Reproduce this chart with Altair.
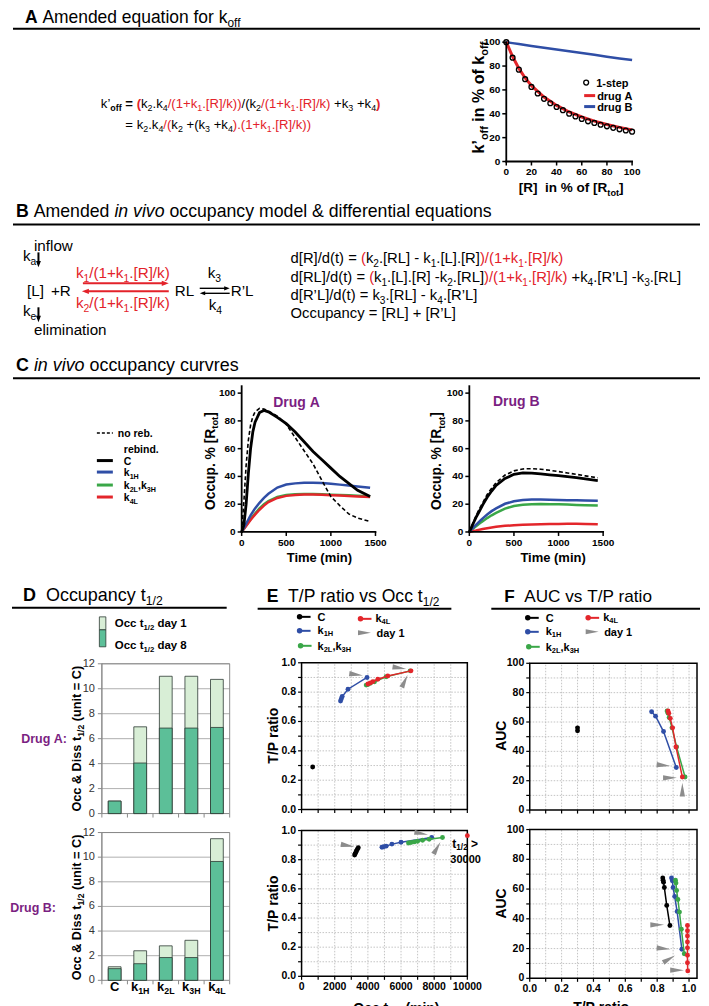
import math
import altair as alt
import pandas as pd

FONT = "Liberation Sans"
W, H = 693, 990
M = 8

BLACK = "#000000"
RED = "#e3222a"
PURPLE = "#7b1f82"
BLUE = "#2f4ea6"
GREEN = "#3aa748"
LRED = "#e3262b"
GRAY = "#8c8c8c"
GRIDC = "#b5b5b5"
DARKG = "#5cbf98"
LIGHTG = "#d8eed6"
EDGE = "#2d3a33"
XGRAY = "#8a8a8a"

# ------------------------------------------------------------------ data
A_R = [0, 5, 10, 15, 20, 25, 30, 35, 40, 45, 50, 55, 60, 65, 70, 75, 80, 85, 90, 95, 100]
A_ONESTEP = [100, 87, 77, 69, 62.5, 57, 52.5, 48.8, 45.7, 43, 40, 37.8, 35.7, 33.7, 32.3,
             30.8, 29.5, 28.2, 27, 26, 25]
A_LINE_R = [0, 5, 10, 15, 20, 30, 40, 50, 60, 70, 80, 90, 100]
A_DRUG_A = [100, 88, 78, 70, 63.5, 54, 47, 41.5, 37.3, 33.8, 31, 28.6, 26.5]
A_DRUG_B = [100, 99.2, 98.4, 97.6, 96.8, 95.3, 93.8, 92.4, 91, 89.4, 87.8, 86.3, 85]
A_TICKS = [0, 20, 40, 60, 80, 100]
A_LABELS = ["0", "20", "40", "60", "80", "100"]

C_TIME = [0, 25, 50, 75, 100, 125, 150, 200, 250, 300, 400, 500, 600, 700, 800, 900, 1000,
          1100, 1200, 1300, 1440]
CA_NOREB = [0, 22, 48, 66, 77, 83, 86.5, 89, 88.5, 87, 83.5, 77.5, 68, 58.5, 49, 37, 25.5,
            19, 13, 10, 7.5]
CA_C = [0, 5, 20, 42, 60, 72, 79, 86, 87.5, 86.5, 82.5, 78, 72, 65, 58, 52, 46, 40, 35, 30, 25.5]
CA_K1H = [0, 3, 6, 9, 12, 14.5, 17, 21, 24.5, 27.5, 32, 34.2, 35, 35.4, 35.5, 35.2, 34.7, 34.1,
          33.4, 32.8, 31.8]
CA_K2L = [0, 2.3, 4.7, 7, 9.2, 11.3, 13.3, 17, 20, 22.3, 25.2, 26.6, 27.2, 27.4, 27.3, 27.1,
          26.9, 26.7, 26.4, 26.1, 25.8]
CA_K4L = [0, 2.1, 4.3, 6.5, 8.6, 10.6, 12.5, 16, 19, 21.5, 24.5, 26, 26.7, 27, 27, 26.8, 26.5,
          26.2, 25.9, 25.6, 25.2]
CB_NOREB = [0, 4, 8, 11.5, 15, 18, 21, 27, 31.5, 35.5, 41, 44, 45.4, 45.6, 45.2, 44.4, 43.5,
            42.5, 41.5, 40.4, 39]
CB_C = [0, 3.5, 7, 10.5, 13.5, 16.5, 19.5, 25, 29.5, 33.5, 38.5, 41.5, 42.5, 42.4, 41.8, 41.2,
        40.6, 39.9, 39.1, 38.2, 37]
CB_K1H = [0, 1.8, 3.5, 5.2, 6.8, 8.3, 9.8, 12.6, 15, 17, 20.3, 22.1, 23, 23.3, 23.3, 23.2, 23,
          22.9, 22.8, 22.6, 22.5]
CB_K2L = [0, 1.4, 2.8, 4.1, 5.4, 6.6, 7.8, 10, 12, 13.8, 16.8, 18.7, 19.6, 20, 20.1, 20, 19.9,
          19.7, 19.5, 19.3, 19]
CB_K4L = [0, 0.4, 0.8, 1.1, 1.5, 1.8, 2.1, 2.7, 3.2, 3.7, 4.4, 4.9, 5.2, 5.4, 5.6, 5.7, 5.8,
          5.9, 5.9, 5.8, 5.5]
C_XTICKS = [0, 500, 1000, 1500]
C_XLABELS = ["0", "500", "1000", "1500"]
C_YTICKS = [0, 20, 40, 60, 80, 100]
C_YLABELS = ["0", "20", "40", "60", "80", "100"]

D_CATS = ["C", "k1H", "k2L", "k3H", "k4L"]
DA_DAY1 = [1.0, 6.95, 11.0, 11.0, 10.75]
DA_DAY8 = [1.0, 4.05, 6.85, 6.85, 6.9]
DB_DAY1 = [1.1, 2.4, 2.8, 3.25, 11.5]
DB_DAY8 = [0.95, 1.35, 1.85, 1.85, 9.65]
D_YTICKS = [0, 2, 4, 6, 8, 10, 12]
D_YLABELS = ["0", "2", "4", "6", "8", "10", "12"]

EA_C_X, EA_C_Y = [670], [0.29]
EA_K1H_X = [2350, 2400, 2450, 2800, 3950]
EA_K1H_Y = [0.74, 0.755, 0.77, 0.82, 0.90]
EA_K2L_X = [3900, 4000, 4150, 4400, 5100, 6550]
EA_K2L_Y = [0.848, 0.852, 0.86, 0.87, 0.905, 0.945]
EA_K4L_X = [4000, 4150, 4300, 4600, 5200, 6600]
EA_K4L_Y = [0.855, 0.863, 0.872, 0.888, 0.91, 0.945]
EA_TRI_X = [3290, 5900, 6220]
EA_TRI_Y = [0.92, 0.965, 0.875]
EA_TRI_A = [8, 8, 295]

EB_C_X = [3200, 3230, 3270, 3310, 3360, 3420]
EB_C_Y = [0.832, 0.84, 0.85, 0.86, 0.87, 0.882]
EB_K1H_X = [4850, 4950, 5100, 5450, 6000, 7850]
EB_K1H_Y = [0.885, 0.889, 0.893, 0.907, 0.92, 0.953]
EB_K2L_X = [6450, 6600, 6800, 7000, 7300, 7700, 8500]
EB_K2L_Y = [0.915, 0.918, 0.922, 0.927, 0.933, 0.94, 0.952]
EB_K4L_X, EB_K4L_Y = [10000], [0.965]
EB_TRI_X = [2780, 7220, 8170]
EB_TRI_Y = [0.897, 0.98, 0.88]
EB_TRI_A = [10, 10, 300]

E_XVALS = [0, 1000, 2000, 3000, 4000, 5000, 6000, 7000, 8000, 9000, 10000]
E_XLABELS = ["0", "", "2000", "", "4000", "", "6000", "", "8000", "", "10000"]
E_YVALS = [0, 0.1, 0.2, 0.3, 0.4, 0.5, 0.6, 0.7, 0.8, 0.9, 1.0]
E_YLABELS = ["0.0", "", "0.2", "", "0.4", "", "0.6", "", "0.8", "", "1.0"]

FA_C_X, FA_C_Y = [0.30, 0.30], [56, 54]
FA_K1H_X = [0.765, 0.79, 0.84, 0.92]
FA_K1H_Y = [67, 64, 53.5, 29]
FA_K2L_X = [0.862, 0.868, 0.875, 0.893, 0.922, 0.975]
FA_K2L_Y = [67.5, 66, 63, 56, 43, 22.5]
FA_K4L_X = [0.868, 0.873, 0.882, 0.897, 0.918, 0.958]
FA_K4L_Y = [67.5, 66, 62.5, 56, 43, 22.5]
FA_TRI_X = [0.84, 0.88, 0.958]
FA_TRI_Y = [30.5, 22, 14]
FA_TRI_A = [5, 0, 270]

FB_C_X = [0.835, 0.837, 0.84, 0.845, 0.86, 0.88]
FB_C_Y = [67.5, 66, 64.5, 61, 49, 35.5]
FB_K1H_X = [0.89, 0.895, 0.9, 0.91, 0.925, 0.955]
FB_K1H_Y = [67.5, 65.5, 61, 55, 45, 19.5]
FB_K2L_X = [0.915, 0.918, 0.922, 0.93, 0.94, 0.952, 0.97]
FB_K2L_Y = [66, 64, 59, 53, 44.5, 33, 16.5]
FB_K4L_X = [0.99, 0.99, 0.99, 0.99, 0.99, 0.99, 0.99, 0.992]
FB_K4L_Y = [35.5, 32, 28.5, 24.5, 20.5, 15.5, 10.5, 5]
FB_TRI_X = [0.80, 0.84, 0.875, 0.925]
FB_TRI_Y = [36, 20, 13, 5.5]
FB_TRI_A = [0, 5, 330, 0]

F_XVALS = [0, 0.1, 0.2, 0.3, 0.4, 0.5, 0.6, 0.7, 0.8, 0.9, 1.0]
F_XLABELS = ["0.0", "", "0.2", "", "0.4", "", "0.6", "", "0.8", "", "1.0"]
F_YVALS = [0, 10, 20, 30, 40, 50, 60, 70, 80, 90, 100]
F_YLABELS = ["0", "", "20", "", "40", "", "60", "", "80", "", "100"]

# ------------------------------------------------------------------ text layout helpers
REGW = {' ': 278, '!': 278, '%': 889, '&': 667, "'": 191, '\u2019': 222, '(': 333, ')': 333,
        '+': 584, ',': 278, '-': 333, '.': 278, '/': 278, ':': 278, '=': 584, '>': 584,
        '[': 278, ']': 278,
        'A': 667, 'B': 667, 'C': 722, 'D': 722, 'E': 667, 'F': 611, 'H': 722, 'L': 556,
        'O': 778, 'P': 667, 'R': 722, 'T': 611, 'U': 722,
        'a': 556, 'b': 556, 'c': 500, 'd': 556, 'e': 556, 'f': 278, 'g': 556, 'h': 556,
        'i': 222, 'k': 500, 'l': 222, 'm': 833, 'n': 556, 'o': 556, 'p': 556, 'q': 556,
        'r': 333, 's': 500, 't': 278, 'u': 556, 'v': 500, 'w': 722, 'x': 500, 'y': 500}
BOLDW = {' ': 278, '!': 333, '%': 889, '&': 722, "'": 238, '\u2019': 278, '(': 333, ')': 333,
         '+': 584, ',': 278, '-': 333, '.': 278, '/': 278, ':': 333, '=': 584, '>': 584,
         '[': 333, ']': 333,
         'A': 722, 'B': 722, 'C': 722, 'D': 722, 'E': 667, 'F': 611, 'H': 722, 'L': 611,
         'O': 778, 'P': 667, 'R': 722, 'T': 611, 'U': 722,
         'a': 556, 'b': 611, 'c': 556, 'd': 611, 'e': 556, 'f': 333, 'g': 611, 'h': 611,
         'i': 278, 'k': 556, 'l': 278, 'm': 889, 'n': 611, 'o': 611, 'p': 611, 'q': 611,
         'r': 389, 's': 556, 't': 333, 'u': 611, 'v': 556, 'w': 778, 'x': 556, 'y': 556}
SUB = 0.68

TXT, RULES, PTS, RECTS = [], [], [], []


def _items(segs, bold):
    out = []
    for s in segs:
        if isinstance(s, str):
            out.append((s, "b" if bold else ""))
        else:
            out.append((s[0], s[1] + ("b" if bold else "")))
    return out


def _measure(items, fs):
    res = []
    for t, fl in items:
        sz = fs * (SUB if "s" in fl else 1.0)
        tbl = BOLDW if "b" in fl else REGW
        res.append((t, fl, sz, sum(tbl.get(ch, 556) for ch in t) * sz / 1000.0))
    return res


def twidth(segs, fs, bold=False):
    return sum(r[3] for r in _measure(_items(segs, bold), fs))


def put(segs, x, y, fs, anchor="left", angle=0, color=BLACK, width=None, bold=False):
    items = _items(segs, bold)
    m = _measure(items, fs)
    total = sum(r[3] for r in m)
    if width is not None:
        fs = fs * width / total
        m = _measure(items, fs)
        total = sum(r[3] for r in m)
    pos = {"left": 0.0, "center": -total / 2.0, "right": -total}[anchor]
    bx = x + 0.35 * fs
    for t, fl, sz, w in m:
        tbl = BOLDW if "b" in fl else REGW
        stripped = t.lstrip(" ")
        lead = (len(t) - len(stripped)) * tbl[" "] * sz / 1000.0
        core = stripped.rstrip(" ")
        if core:
            col = RED if "r" in fl else (PURPLE if "p" in fl else color)
            sh = 0.24 * fs if "s" in fl else 0.0
            p = pos + lead
            if angle == 270:
                X, Y = bx + sh, y - p
            else:
                X, Y = x + p, y + sh
            TXT.append({"x": X - M, "y": Y - M, "t": core.replace(" ", "\u00a0"),
                        "s": round(sz, 2), "c": col, "w": "bold" if "b" in fl else "normal",
                        "st": "italic" if "i" in fl else "normal", "a": angle})
        pos += w
    return fs


def rule(x1, y1, x2, y2, color=BLACK, sw=2.0, dash=0):
    RULES.append({"x": x1 - M, "y": y1 - M, "x2": x2 - M, "y2": y2 - M, "c": color,
                  "sw": sw, "d": dash})


TRI = "M1,0L-1,-0.38L-1,0.38Z"
HEAD = "M1,0L-1,-0.75L-1,0.75Z"


def pt(x, y, shape, size, color, angle=0, filled=True):
    PTS.append({"x": x - M, "y": y - M, "shape": shape, "s": size, "c": color, "a": angle,
                "f": filled})


def rect(x1, y1, x2, y2, fill):
    RECTS.append({"x": x1 - M, "y": y1 - M, "x2": x2 - M, "y2": y2 - M, "c": fill})


def arrow(x1, y1, x2, y2, color, sw, hsize):
    dx, dy = x2 - x1, y2 - y1
    L = math.hypot(dx, dy)
    ang = math.degrees(math.atan2(dy, dx)) % 360
    r = math.sqrt(hsize) / 2.0
    cx, cy = x2 - dx / L * r, y2 - dy / L * r
    rule(x1, y1, cx, cy, color, sw)
    pt(cx, cy, HEAD, hsize, color, angle=ang)


# ------------------------------------------------------------------ panel A texts
put([("A", "b"), (" Amended equation for k", ""), ("off", "s")], 25, 17, 17, width=216)
rule(13, 23, 701, 23)
EQ1 = [("k\u2019", ""), ("off", "bs"), (" = ", "b"), ("(", "rb"), ("k", ""), ("2", "s"),
       (".k", ""), ("4", "s"), ("/(1+k", "r"), ("1", "rs"), (".[R]/k))", "r"), ("/(k", ""),
       ("2", "s"), ("/(1+k", "r"), ("1", "rs"), (".[R]/k)", "r"), (" +k", ""), ("3", "s"),
       (" +k", ""), ("4", "s"), (")", "rb")]
fsA = put(EQ1, 101, 102, 13, width=280)
eq2x = 101 + twidth([("k\u2019", ""), ("off", "bs"), (" ", "b")], fsA)
put([("= k", ""), ("2", "s"), (".k", ""), ("4", "s"), ("/(", "r"), ("k", ""), ("2", "s"),
     (" +(k", ""), ("3", "s"), (" +k", ""), ("4", "s"), (").(1+k", "r"), ("1", "rs"),
     (".[R]/k))", "r")], eq2x, 123, fsA)
put([("k\u2019", ""), ("off", "s"), (" in % of k", ""), ("off", "s")], 479, 92, 13,
    anchor="center", angle=270, width=112, bold=True)
put([("[R]  in % of [R", ""), ("tot", "s"), ("]", "")], 572, 187, 13, anchor="center",
    width=105, bold=True)
pt(587, 77, "circle", 24, BLACK, filled=False)
put(["1-step"], 597, 81, 11, bold=True)
rule(585, 90, 596, 90, LRED, 3)
put(["drug A"], 598, 94, 11, bold=True)
rule(585, 101, 596, 101, BLUE, 3)
put(["drug B"], 598, 105, 11, bold=True)

# ------------------------------------------------------------------ panel B texts
put([("B", "b"), (" Amended ", ""), ("in vivo", "i"),
     (" occupancy model & differential equations", "")], 16, 212, 17, width=477)
rule(13, 219, 701, 219)
fsD = put([("k", ""), ("1", "s"), ("/(1+k", ""), ("1", "s"), (".[R]/k)", "")], 76, 273, 13,
          color=RED, width=94)
put([("k", ""), ("2", "s"), ("/(1+k", ""), ("1", "s"), (".[R]/k)", "")], 76, 303, fsD,
    color=RED)
put(["inflow"], 34, 246, fsD)
put([("k", ""), ("a", "s")], 23, 256, fsD)
arrow(38.5, 247, 38.5, 262, BLACK, 2, 42)
put(["[L]"], 27, 291, fsD)
put(["+R"], 51, 291, fsD)
put([("k", ""), ("e", "s")], 23, 311, fsD)
arrow(38.5, 302, 38.5, 317, BLACK, 2, 42)
put(["elimination"], 34, 330, fsD)
arrow(83, 278, 169, 278, RED, 2, 49)
arrow(169, 286, 82, 286, RED, 2, 49)
put(["RL"], 175, 291, fsD)
put([("k", ""), ("3", "s")], 208, 273, fsD)
arrow(200, 283, 230, 283, BLACK, 1.4, 30)
arrow(230, 288, 200, 288, BLACK, 1.4, 30)
put(["R\u2019L"], 231, 291, fsD)
put([("k", ""), ("4", "s")], 209, 305, fsD)

EQB2 = [("d[RL]/d(t) = ", ""), ("(", "r"), ("k", ""), ("1", "s"), (".[L].[R] -k", ""),
        ("2", "s"), (".[RL]", ""), (")/(1+k", "r"), ("1", "rs"), (".[R]/k)", "r"), (" +k", ""),
        ("4", "s"), (".[R\u2019L] -k", ""), ("3", "s"), (".[RL]", "")]
fsE = put(EQB2, 291, 277, 13, width=391)
put([("d[R]/d(t) = ", ""), ("(", "r"), ("k", ""), ("2", "s"), (".[RL] - k", ""), ("1", "s"),
     (".[L].[R]", ""), (")/(1+k", "r"), ("1", "rs"), (".[R]/k)", "r")], 291, 258, fsE)
put([("d[R\u2019L]/d(t) = k", ""), ("3", "s"), (".[RL] - k", ""), ("4", "s"),
     (".[R\u2019L]", "")], 291, 295, fsE)
put(["Occupancy = [RL] + [R\u2019L]"], 291, 313, fsE)

# ------------------------------------------------------------------ panel C texts
put([("C", "b"), (" ", ""), ("in vivo", "i"), (" occupancy curvres", "")], 16, 366, 17,
    width=223)
rule(13, 373, 701, 373)
rule(97, 428, 113, 428, BLACK, 1.5, dash=1)
put(["no reb."], 118, 432, 10.5, bold=True)
put(["rebind."], 124, 448, 10.5, bold=True)
rule(97, 455.5, 113, 455.5, BLACK, 3)
put(["C"], 124, 459.5, 10.5, bold=True)
rule(97, 467, 113, 467, BLUE, 3)
put([("k", ""), ("1H", "s")], 124, 471, 10.5, bold=True)
rule(97, 480, 113, 480, GREEN, 3)
put([("k", ""), ("2L", "s"), (",k", ""), ("3H", "s")], 124, 484, 10.5, bold=True)
rule(97, 492, 113, 492, LRED, 3)
put([("k", ""), ("4L", "s")], 124, 496, 10.5, bold=True)
put(["Drug A"], 297, 402, 14, anchor="center", bold=True, color=PURPLE)
put(["Drug B"], 517, 401, 14, anchor="center", bold=True, color=PURPLE)
for xc in (210, 437):
    put([("Occup. % [R", ""), ("tot", "s"), ("]", "")], xc, 456, 13, anchor="center",
        angle=270, width=98, bold=True)
put(["Time (min)"], 320, 557, 13, anchor="center", bold=True)
put(["Time (min)"], 554, 557, 13, anchor="center", bold=True)

# ------------------------------------------------------------------ panel D texts
put([("D", "b"), ("  Occupancy t", ""), ("1/2", "s")], 23, 596, 17, width=140)
rule(12, 603, 227, 603)
rect(99.5, 612, 106, 625, LIGHTG)
rect(99.5, 625, 106, 642, DARKG)
put([("Occ t", ""), ("1/2", "s"), (" day 1", "")], 115, 622, 11, bold=True, width=72)
put([("Occ t", ""), ("1/2", "s"), (" day 8", "")], 115, 644, 11, bold=True, width=72)
put(["Drug A:"], 67, 738, 12.5, anchor="right", bold=True, color=PURPLE)
put(["Drug B:"], 56, 908, 12.5, anchor="right", bold=True, color=PURPLE)
for yc in (734, 903):
    put([("Occ & Diss t", ""), ("1/2", "s"), (" (unit = C)", "")], 77, yc, 12,
        anchor="center", angle=270, width=146, bold=True)
D_X0, D_X1 = 102, 230
D_STEP = (D_X1 - D_X0) / 5.0
CAT_SEGS = [[("C", "")], [("k", ""), ("1H", "s")], [("k", ""), ("2L", "s")],
            [("k", ""), ("3H", "s")], [("k", ""), ("4L", "s")]]
for i, segs in enumerate(CAT_SEGS):
    put(segs, D_X0 + D_STEP * (i + 0.5), 987, 13, anchor="center", bold=True)
for yb in (809, 976):
    for i in range(6):
        rule(D_X0 + D_STEP * i, yb, D_X0 + D_STEP * i, yb + 4, XGRAY, 1)

# ------------------------------------------------------------------ panel E/F texts
put([("E", "b"), ("  T/P ratio vs Occ t", ""), ("1/2", "s")], 267, 597, 17, width=173)
rule(258, 604, 452, 604)
put([("F", "b"), ("  AUC vs T/P ratio", "")], 505, 597, 17, width=148)
rule(492, 604, 701, 604)


def legend_block(x, y, x2, y2):
    rule(x, y, x + 11, y, BLACK, 2)
    pt(x, y, "circle", 30, BLACK)
    put(["C"], x + 18, y + 4, 11, bold=True)
    rule(x, y + 14, x + 11, y + 14, BLUE, 2)
    pt(x, y + 14, "circle", 30, BLUE)
    put([("k", ""), ("1H", "s")], x + 18, y + 17, 11, bold=True)
    rule(x + 1, y + 29, x + 12, y + 29, GREEN, 2)
    pt(x + 1, y + 29, "circle", 30, GREEN)
    put([("k", ""), ("2L", "s"), (",k", ""), ("3H", "s")], x + 18, y + 33, 11, bold=True)
    rule(x2, y2, x2 + 11, y2, LRED, 2)
    pt(x2, y2, "circle", 30, LRED)
    put([("k", ""), ("4L", "s")], x2 + 15, y2 + 3, 11, bold=True)
    pt(x2 + 4, y2 + 14, TRI, 169, GRAY)
    put(["day 1"], x2 + 16, y2 + 18, 11, bold=True)


legend_block(300, 612, 361, 614)
legend_block(528.5, 613, 589, 613)
for yc in (731, 899):
    put(["T/P ratio"], 273, yc, 14, anchor="center", angle=270, bold=True)
    put(["AUC"], 502, yc, 14, anchor="center", angle=270, bold=True)
put([("Occ t", ""), ("1/2", "s"), (" (min)", "")], 397, 1009, 14, anchor="center", bold=True)
put(["T/P ratio"], 602, 1008, 14, anchor="center", bold=True)
put([("t", ""), ("1/2", "s"), (" >", "")], 453, 843, 12, bold=True)
put(["30000"], 451, 859, 11, bold=True)


# ------------------------------------------------------------------ scales / axes helpers
def sx(dom, a, b):
    return alt.Scale(domain=dom, range=[a - M, b - M], nice=False, zero=False)


def sy(dom, bottom, top):
    return alt.Scale(domain=dom, range=[bottom - M, top - M], nice=False, zero=False)


PRISM = dict(dc=BLACK, dw=1.8, tc=BLACK, tw=1.5, ts=4, fs=10, fw="bold", lc=BLACK, pad=2)
FRAMED = dict(dc=BLACK, dw=0, tc=BLACK, tw=1.2, ts=3.5, fs=10.5, fw="bold", lc=BLACK, pad=2)
EXCEL = dict(dc=XGRAY, dw=1, tc=XGRAY, tw=1, ts=4, fs=11, fw="normal", lc="#333333", pad=3)


def y_axis(ys, xpage, dom, vals, labels, st, domain=True):
    x = xpage - M
    out = []
    if domain:
        out.append(alt.Chart(pd.DataFrame({"a": [dom[0]], "b": [dom[1]]})).mark_rule(
            color=st["dc"], strokeWidth=st["dw"], strokeCap="square").encode(
            y=alt.Y("a:Q", scale=ys, axis=None), y2="b:Q", x=alt.value(x)))
    df = pd.DataFrame({"v": vals, "lab": labels})
    out.append(alt.Chart(df).mark_rule(color=st["tc"], strokeWidth=st["tw"]).encode(
        y=alt.Y("v:Q", scale=ys, axis=None), x=alt.value(x - st["ts"]), x2=alt.value(x)))
    lab = df[df["lab"] != ""]
    out.append(alt.Chart(lab).mark_text(
        align="right", baseline="middle", font=FONT, fontSize=st["fs"], fontWeight=st["fw"],
        color=st["lc"]).encode(
        y=alt.Y("v:Q", scale=ys, axis=None), x=alt.value(x - st["ts"] - st["pad"]),
        text="lab:N"))
    return out


def x_axis(xs, ypage, dom, vals, labels, st, domain=True, show_labels=True):
    y = ypage - M
    out = []
    if domain:
        out.append(alt.Chart(pd.DataFrame({"a": [dom[0]], "b": [dom[1]]})).mark_rule(
            color=st["dc"], strokeWidth=st["dw"], strokeCap="square").encode(
            x=alt.X("a:Q", scale=xs, axis=None), x2="b:Q", y=alt.value(y)))
    df = pd.DataFrame({"v": vals, "lab": labels})
    out.append(alt.Chart(df).mark_rule(color=st["tc"], strokeWidth=st["tw"]).encode(
        x=alt.X("v:Q", scale=xs, axis=None), y=alt.value(y), y2=alt.value(y + st["ts"])))
    if show_labels:
        lab = df[df["lab"] != ""]
        out.append(alt.Chart(lab).mark_text(
            align="center", baseline="top", font=FONT, fontSize=st["fs"],
            fontWeight=st["fw"], color=st["lc"]).encode(
            x=alt.X("v:Q", scale=xs, axis=None), y=alt.value(y + st["ts"] + st["pad"]),
            text="lab:N"))
    return out


# ------------------------------------------------------------------ panel A plot
def panel_a():
    xs = sx([0, 100], 507, 633)
    ys = sy([0, 100], 156, 36.5)
    df_l = pd.DataFrame({"x": A_LINE_R, "a": A_DRUG_A, "b": A_DRUG_B})
    df_p = pd.DataFrame({"x": A_R, "y": A_ONESTEP})
    blue = alt.Chart(df_l).mark_line(color=BLUE, strokeWidth=2.5).encode(
        x=alt.X("x:Q", scale=xs, axis=None), y=alt.Y("b:Q", scale=ys, axis=None))
    red = alt.Chart(df_l).mark_line(color=LRED, strokeWidth=3).encode(
        x=alt.X("x:Q", scale=xs, axis=None), y=alt.Y("a:Q", scale=ys, axis=None))
    pts = alt.Chart(df_p).mark_point(shape="circle", filled=False, color=BLACK, size=24,
                                     strokeWidth=1.3, opacity=1).encode(
        x=alt.X("x:Q", scale=xs, axis=None), y=alt.Y("y:Q", scale=ys, axis=None))
    axes = (x_axis(xs, 156, [0, 100], A_TICKS, A_LABELS, PRISM)
            + y_axis(ys, 507, [0, 100], A_TICKS, A_LABELS, PRISM))
    return alt.layer(blue, red, pts, *axes)


# ------------------------------------------------------------------ panel C plots
def panel_c(x0, x1, series):
    xs = sx([0, 1500], x0, x1)
    ys = sy([0, 105], 527, 381)
    layers = []
    for vals, color, width, dash in series:
        df = pd.DataFrame({"x": C_TIME, "y": vals})
        mk = dict(color=color, strokeWidth=width)
        if dash:
            mk["strokeDash"] = [4, 2.5]
        layers.append(alt.Chart(df).mark_line(**mk).encode(
            x=alt.X("x:Q", scale=xs, axis=None), y=alt.Y("y:Q", scale=ys, axis=None)))
    layers += x_axis(xs, 527, [0, 1500], C_XTICKS, C_XLABELS, PRISM)
    layers += y_axis(ys, x0, [0, 105], C_YTICKS, C_YLABELS, PRISM)
    return alt.layer(*layers)


# ------------------------------------------------------------------ panel D plots
def panel_d(day1, day8, bottom, top):
    xs = alt.Scale(type="band", domain=D_CATS, range=[D_X0 - M, D_X1 - M], paddingInner=0.5,
                   paddingOuter=0.25)
    ys = sy([0, 12], bottom, top)
    df = pd.DataFrame({"cat": D_CATS, "d1": day1, "d8": day8})
    grid = alt.Chart(pd.DataFrame({"g": D_YTICKS[1:]})).mark_rule(
        color="#9a9a9a", strokeWidth=0.8).encode(
        y=alt.Y("g:Q", scale=ys, axis=None), x=alt.value(D_X0 - M), x2=alt.value(D_X1 - M))
    frame = alt.Chart(pd.DataFrame({"k": [0]})).mark_rect(
        fillOpacity=0, stroke=XGRAY, strokeWidth=1).encode(
        x=alt.value(D_X0 - M), x2=alt.value(D_X1 - M), y=alt.value(top - M),
        y2=alt.value(bottom - M))
    light = alt.Chart(df).mark_bar(color=LIGHTG, stroke=EDGE, strokeWidth=0.8).encode(
        x=alt.X("cat:N", scale=xs, sort=D_CATS, axis=None),
        y=alt.Y("d1:Q", scale=ys, axis=None))
    dark = alt.Chart(df).mark_bar(color=DARKG, stroke=EDGE, strokeWidth=0.8).encode(
        x=alt.X("cat:N", scale=xs, sort=D_CATS, axis=None),
        y=alt.Y("d8:Q", scale=ys, axis=None))
    axes = y_axis(ys, D_X0, [0, 12], D_YTICKS, D_YLABELS, EXCEL)
    return alt.layer(grid, frame, light, dark, *axes)


# ------------------------------------------------------------------ panel E/F plots
def panel_framed(series, tri, xdom, ydom, xl, xr, yb, yt, xvals, xlabels, yvals, ylabels,
                 show_x):
    xs = sx(xdom, xl, xr)
    ys = sy(ydom, yb, yt)
    gv = pd.DataFrame({"x": [v for v in xvals if xdom[0] < v < xdom[1]]})
    gv["y0"], gv["y1"] = ydom[0], ydom[1]
    gh = pd.DataFrame({"y": [v for v in yvals if ydom[0] < v < ydom[1]]})
    gh["x0"], gh["x1"] = xdom[0], xdom[1]
    grid_v = alt.Chart(gv).mark_rule(color=GRIDC, strokeWidth=0.8, strokeDash=[1.5, 1.5]).encode(
        x=alt.X("x:Q", scale=xs, axis=None), y=alt.Y("y0:Q", scale=ys, axis=None), y2="y1:Q")
    grid_h = alt.Chart(gh).mark_rule(color=GRIDC, strokeWidth=0.8, strokeDash=[1.5, 1.5]).encode(
        y=alt.Y("y:Q", scale=ys, axis=None), x=alt.X("x0:Q", scale=xs, axis=None), x2="x1:Q")
    fr = pd.DataFrame({"x0": [xdom[0]], "x1": [xdom[1]], "y0": [ydom[0]], "y1": [ydom[1]]})
    frame = alt.Chart(fr).mark_rect(fillOpacity=0, stroke=BLACK, strokeWidth=1.5).encode(
        x=alt.X("x0:Q", scale=xs, axis=None), x2="x1:Q",
        y=alt.Y("y0:Q", scale=ys, axis=None), y2="y1:Q")
    layers = [grid_v, grid_h, frame]
    layers += x_axis(xs, yb, xdom, xvals, xlabels, FRAMED, domain=False, show_labels=show_x)
    layers += y_axis(ys, xl, ydom, yvals, ylabels, FRAMED, domain=False)
    for xv, yv, color in series:
        df = pd.DataFrame({"x": xv, "y": yv})
        layers.append(alt.Chart(df).mark_line(
            color=color, strokeWidth=1.5,
            point=alt.OverlayMarkDef(filled=True, size=24, color=color, opacity=1)).encode(
            x=alt.X("x:Q", scale=xs, axis=None), y=alt.Y("y:Q", scale=ys, axis=None)))
    tdf = pd.DataFrame({"x": tri[0], "y": tri[1], "ang": tri[2]})
    layers.append(alt.Chart(tdf).mark_point(shape=TRI, filled=True, color=GRAY, size=190,
                                            opacity=1).encode(
        x=alt.X("x:Q", scale=xs, axis=None), y=alt.Y("y:Q", scale=ys, axis=None),
        angle=alt.Angle("ang:Q", scale=None)))
    return alt.layer(*layers)


pA = panel_a()
pCA = panel_c(242, 376, [(CA_K2L, GREEN, 2.5, False), (CA_K4L, LRED, 2.5, False),
                         (CA_K1H, BLUE, 2.5, False), (CA_NOREB, BLACK, 1.6, True),
                         (CA_C, BLACK, 2.8, False)])
pCB = panel_c(470, 604, [(CB_K2L, GREEN, 2.5, False), (CB_K4L, LRED, 2.5, False),
                         (CB_K1H, BLUE, 2.5, False), (CB_NOREB, BLACK, 1.6, True),
                         (CB_C, BLACK, 2.8, False)])
pDA = panel_d(DA_DAY1, DA_DAY8, 809, 659)
pDB = panel_d(DB_DAY1, DB_DAY8, 976, 828)
pEA = panel_framed([(EA_C_X, EA_C_Y, BLACK), (EA_K1H_X, EA_K1H_Y, BLUE),
                    (EA_K2L_X, EA_K2L_Y, GREEN), (EA_K4L_X, EA_K4L_Y, LRED)],
                   (EA_TRI_X, EA_TRI_Y, EA_TRI_A), [0, 10000], [0, 1], 302, 468, 805, 658,
                   E_XVALS, E_XLABELS, E_YVALS, E_YLABELS, False)
pEB = panel_framed([(EB_C_X, EB_C_Y, BLACK), (EB_K1H_X, EB_K1H_Y, BLUE),
                    (EB_K2L_X, EB_K2L_Y, GREEN), (EB_K4L_X, EB_K4L_Y, LRED)],
                   (EB_TRI_X, EB_TRI_Y, EB_TRI_A), [0, 10000], [0, 1], 302, 468, 972, 826,
                   E_XVALS, E_XLABELS, E_YVALS, E_YLABELS, True)
pFA = panel_framed([(FA_C_X, FA_C_Y, BLACK), (FA_K1H_X, FA_K1H_Y, BLUE),
                    (FA_K2L_X, FA_K2L_Y, GREEN), (FA_K4L_X, FA_K4L_Y, LRED)],
                   (FA_TRI_X, FA_TRI_Y, FA_TRI_A), [0, 1.05], [0, 100], 530.5, 698, 805.5,
                   658.5, F_XVALS, F_XLABELS, F_YVALS, F_YLABELS, False)
pFB = panel_framed([(FB_C_X, FB_C_Y, BLACK), (FB_K1H_X, FB_K1H_Y, BLUE),
                    (FB_K2L_X, FB_K2L_Y, GREEN), (FB_K4L_X, FB_K4L_Y, LRED)],
                   (FB_TRI_X, FB_TRI_Y, FB_TRI_A), [0, 1.05], [0, 100], 530.5, 698, 974, 825,
                   F_XVALS, F_XLABELS, F_YVALS, F_YLABELS, True)

# ------------------------------------------------------------------ overlay layers
PXX = alt.X("x:Q", scale=None, axis=None)
PXY = alt.Y("y:Q", scale=None, axis=None)
overlay = []
rdf = pd.DataFrame(RULES)
for d, g in rdf.groupby("d"):
    mk = dict(strokeCap="butt")
    if d:
        mk["strokeDash"] = [3, 2]
    overlay.append(alt.Chart(g).mark_rule(**mk).encode(
        x=PXX, y=PXY, x2="x2:Q", y2="y2:Q", color=alt.Color("c:N", scale=None),
        strokeWidth=alt.StrokeWidth("sw:Q", scale=None)))
overlay.append(alt.Chart(pd.DataFrame(RECTS)).mark_rect(stroke=EDGE, strokeWidth=0.8).encode(
    x=PXX, y=PXY, x2="x2:Q", y2="y2:Q", color=alt.Color("c:N", scale=None)))
pdf = pd.DataFrame(PTS)
for (shape, filled), g in pdf.groupby(["shape", "f"]):
    overlay.append(alt.Chart(g).mark_point(shape=shape, filled=bool(filled), opacity=1,
                                           strokeWidth=1.3).encode(
        x=PXX, y=PXY, size=alt.Size("s:Q", scale=None), color=alt.Color("c:N", scale=None),
        angle=alt.Angle("a:Q", scale=None)))
tdf = pd.DataFrame(TXT)
for (w, st, a), g in tdf.groupby(["w", "st", "a"]):
    overlay.append(alt.Chart(g).mark_text(align="left", baseline="alphabetic", font=FONT,
                                          fontWeight=w, fontStyle=st, angle=int(a)).encode(
        x=PXX, y=PXY, text="t:N", color=alt.Color("c:N", scale=None),
        size=alt.Size("s:Q", scale=None)))

chart = alt.layer(pA, pCA, pCB, pDA, pDB, pEA, pEB, pFA, pFB, *overlay).resolve_scale(
    x="independent", y="independent").properties(
    width=W, height=H, padding=0).configure(font=FONT).configure_view(stroke="transparent")

chart.save("out.html", embed_options={"renderer": "svg", "actions": False})
